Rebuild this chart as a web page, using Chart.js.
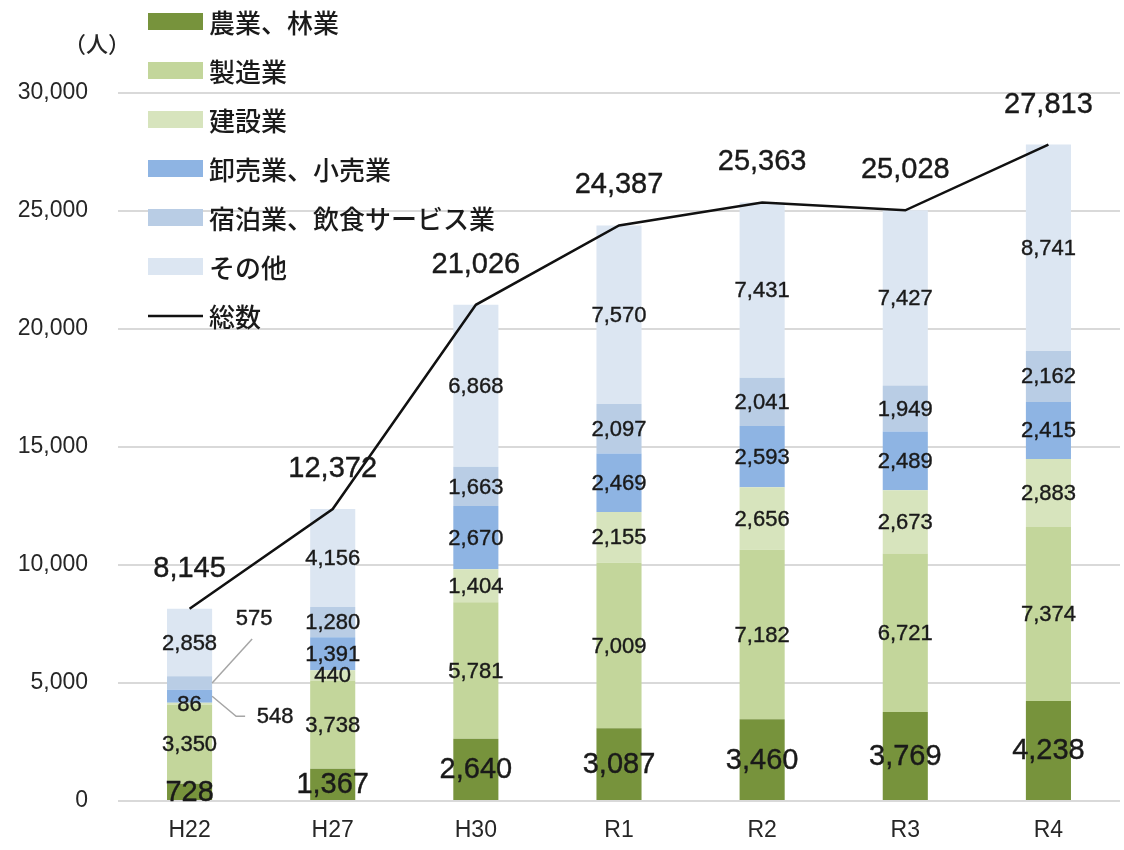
<!DOCTYPE html>
<html>
<head>
<meta charset="utf-8">
<script src="https://cdn.jsdelivr.net/npm/chart.js@4/dist/chart.umd.min.js"></script>
<style>
  html, body { margin: 0; padding: 0; background: #fff; }
  #wrap { width: 1124px; height: 850px; position: relative; }
</style>
</head>
<body>
<div id="wrap"><canvas id="c" width="1124" height="850"></canvas></div>
<script>
const categories = ['H22', 'H27', 'H30', 'R1', 'R2', 'R3', 'R4'];
const agriculture = [728, 1367, 2640, 3087, 3460, 3769, 4238];
const manufacturing = [3350, 3738, 5781, 7009, 7182, 6721, 7374];
const construction = [86, 440, 1404, 2155, 2656, 2673, 2883];
const wholesale = [548, 1391, 2670, 2469, 2593, 2489, 2415];
const hospitality = [575, 1280, 1663, 2097, 2041, 1949, 2162];
const others = [2858, 4156, 6868, 7570, 7431, 7427, 8741];
const totals = [8145, 12372, 21026, 24387, 25363, 25028, 27813];
const seriesNames = ['農業、林業', '製造業', '建設業', '卸売業、小売業', '宿泊業、飲食サービス業', 'その他', '総数'];
const yMin = 0, yMax = 30000, yStep = 5000;
const unitLabel = '（人）';

const colors = ['#77933C', '#C3D69B', '#D7E4BD', '#8EB4E3', '#B9CDE5', '#DCE6F2'];
const LATIN = "'Liberation Sans', Arial, sans-serif";
const CJK = "'Noto Sans CJK JP', sans-serif";
const fmt = v => v.toLocaleString('en-US');

const barSeries = [agriculture, manufacturing, construction, wholesale, hospitality, others];

const datasets = [{
  type: 'line',
  label: seriesNames[6],
  data: totals,
  borderColor: '#111',
  backgroundColor: '#111',
  borderWidth: 2.5,
  pointRadius: 0,
  tension: 0,
  order: -1,
  stack: 'total'
}];
barSeries.forEach((arr, i) => {
  datasets.push({
    type: 'bar',
    label: seriesNames[i],
    data: arr,
    backgroundColor: colors[i],
    borderWidth: 0,
    stack: 'bars',
    order: 1,
    categoryPercentage: 1,
    barPercentage: 0.315
  });
});

function heavyText(ctx, txt, x, y) {
  ctx.fillText(txt, x, y);
  ctx.strokeText(txt, x, y);
}

const labelPlugin = {
  id: 'labels',
  afterDatasetsDraw(chart) {
    const ctx = chart.ctx;
    ctx.save();
    ctx.textAlign = 'center';
    ctx.textBaseline = 'middle';
    ctx.fillStyle = '#1a1a1a';
    for (let d = 1; d <= 6; d++) {
      const meta = chart.getDatasetMeta(d);
      meta.data.forEach((el, i) => {
        const v = chart.data.datasets[d].data[i];
        const cy = (el.y + el.base) / 2;
        ctx.strokeStyle = '#1a1a1a';
        ctx.lineWidth = 0.4;
        if (d === 1) {
          ctx.font = '29px ' + LATIN;
          heavyText(ctx, fmt(v), el.x, cy + 1);
          return;
        }
        ctx.font = '22px ' + LATIN;
        if (i === 0 && (d === 4 || d === 5)) {
          const right = el.x + el.width / 2;
          heavyText(ctx, fmt(v), right + (d === 5 ? 42 : 63), cy + (d === 5 ? -64 : 21));
          ctx.strokeStyle = '#a6a6a6';
          ctx.lineWidth = 1.5;
          ctx.beginPath();
          if (d === 5) {
            ctx.moveTo(right, cy);
            ctx.lineTo(right + 40, cy - 44);
          } else {
            ctx.moveTo(right, cy);
            ctx.lineTo(right + 24, cy + 20);
            ctx.lineTo(right + 33, cy + 20);
          }
          ctx.stroke();
          return;
        }
        heavyText(ctx, fmt(v), el.x, cy + 1);
      });
    }
    const lm = chart.getDatasetMeta(0);
    ctx.font = '29px ' + LATIN;
    ctx.strokeStyle = '#1a1a1a';
    ctx.lineWidth = 0.4;
    lm.data.forEach((pt, i) => {
      heavyText(ctx, fmt(totals[i]), pt.x, pt.y - 40);
    });
    ctx.restore();
  },
  afterDraw(chart) {
    const ctx = chart.ctx;
    ctx.save();
    ctx.font = '500 22px ' + CJK;
    ctx.fillStyle = '#262626';
    ctx.textAlign = 'center';
    ctx.textBaseline = 'middle';
    ctx.fillText(unitLabel, 97, 44);
    ctx.textAlign = 'left';
    ctx.font = '500 26px ' + CJK;
    for (let i = 0; i < 7; i++) {
      const cy = 22 + 49 * i;
      if (i < 6) {
        ctx.fillStyle = colors[i];
        ctx.fillRect(148, cy - 9, 55, 17);
      } else {
        ctx.strokeStyle = '#111';
        ctx.lineWidth = 2.5;
        ctx.beginPath();
        ctx.moveTo(148, cy);
        ctx.lineTo(203, cy);
        ctx.stroke();
      }
      ctx.fillStyle = '#1a1a1a';
      ctx.fillText(seriesNames[i], 209, cy + 1);
    }
    ctx.restore();
  }
};

new Chart(document.getElementById('c'), {
  data: { labels: categories, datasets },
  options: {
    responsive: false,
    animation: false,
    events: [],
    layout: { padding: { top: 93, right: 4, left: 0, bottom: 0 } },
    plugins: { legend: { display: false }, tooltip: { enabled: false } },
    scales: {
      x: {
        stacked: true,
        grid: { display: false, drawTicks: false },
        border: { display: false },
        ticks: { font: { family: LATIN, size: 23 }, color: '#262626', padding: 16 },
        afterFit(s) { s.height = 49; }
      },
      y: {
        stacked: true,
        min: yMin, max: yMax,
        ticks: { stepSize: yStep, font: { family: LATIN, size: 23 }, color: '#262626', padding: 30,
          callback: v => fmt(v) },
        grid: { color: '#d9d9d9', lineWidth: 2, drawTicks: false },
        border: { display: false },
        afterFit(s) { s.width = 118; }
      }
    }
  },
  plugins: [labelPlugin]
});
</script>
</body>
</html>
